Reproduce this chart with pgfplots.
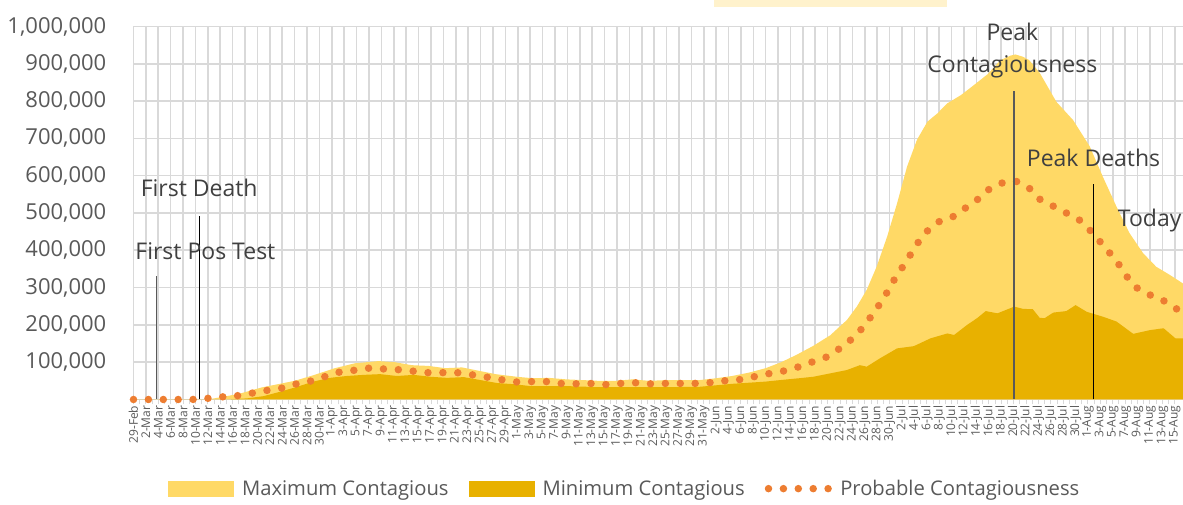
\documentclass[border=0pt]{standalone}
\usepackage{pgfplots}
\pgfplotsset{compat=1.18}
\usepackage{fontspec}
\setmainfont{Open Sans}
\definecolor{maxc}{HTML}{FFD966}
\definecolor{minc}{HTML}{E8B100}
\definecolor{dotc}{HTML}{ED7D31}
\definecolor{gridc}{HTML}{D9D9D9}
\definecolor{tickc}{HTML}{595959}
\definecolor{annc}{HTML}{404040}
\definecolor{boxc}{HTML}{FFF2CC}
\begin{document}
\begin{tikzpicture}
\useasboundingbox (-133.5pt,-105.5pt) rectangle (1049.5pt,399.5pt);
\begin{axis}[
  at={(0,0)}, anchor=south west,
  scale only axis, width=1049.5pt, height=373pt,
  xmin=0, xmax=169.33, ymin=0, ymax=1000000,
  scaled y ticks=false,
  clip=false,
  axis line style={draw=none},
  xtick={0,2,...,168},
  xticklabels={29-Feb,2-Mar,4-Mar,6-Mar,8-Mar,10-Mar,12-Mar,14-Mar,16-Mar,18-Mar,20-Mar,22-Mar,24-Mar,26-Mar,28-Mar,30-Mar,
    1-Apr,3-Apr,5-Apr,7-Apr,9-Apr,11-Apr,13-Apr,15-Apr,17-Apr,19-Apr,21-Apr,23-Apr,25-Apr,27-Apr,29-Apr,
    1-May,3-May,5-May,7-May,9-May,11-May,13-May,15-May,17-May,19-May,21-May,23-May,25-May,27-May,29-May,31-May,
    2-Jun,4-Jun,6-Jun,8-Jun,10-Jun,12-Jun,14-Jun,16-Jun,18-Jun,20-Jun,22-Jun,24-Jun,26-Jun,28-Jun,30-Jun,
    2-Jul,4-Jul,6-Jul,8-Jul,10-Jul,12-Jul,14-Jul,16-Jul,18-Jul,20-Jul,22-Jul,24-Jul,26-Jul,28-Jul,30-Jul,
    1-Aug,3-Aug,5-Aug,7-Aug,9-Aug,11-Aug,13-Aug,15-Aug},
  xticklabel style={rotate=90, anchor=east, font=\fontsize{12}{14}\selectfont, text=tickc, inner sep=1pt},
  minor x tick num=1,
  xtick pos=bottom,
  tick align=outside,
  major tick length=5pt, minor tick length=5pt,
  x tick style={draw=gridc, line width=1pt},
  ytick={0,100000,...,1000000},
  yticklabels={{},{100,000},{200,000},{300,000},{400,000},{500,000},{600,000},{700,000},{800,000},{900,000},{1,000,000}},
  yticklabel style={font=\fontsize{22}{26}\selectfont, text=tickc, inner sep=0pt, xshift=-22pt},
  y tick style={draw=none},
  xmajorgrids, ymajorgrids,
  major grid style={draw=gridc, line width=1.6pt},
  legend style={at={(0.468,-0.239)}, anchor=center, draw=none, fill=none,
    font=\fontsize{20.2}{24}\selectfont, text=tickc,
    /tikz/every odd column/.append style={column sep=6pt},
    /tikz/every even column/.append style={column sep=18pt}},
  legend columns=3,
  legend cell align=left,
]
\fill[boxc] (axis cs:93.7,1053600) rectangle (axis cs:131.2,1071000);

\addplot[draw=none, fill=maxc,
  legend image code/.code={\fill[maxc] (0pt,-8pt) rectangle (66pt,8pt);}]
coordinates {
(0,0) (12,0) (14,6000) (17,15000) (20.6,32000) (22.7,39000) (26,50000) (29.2,66000) (32.5,84000) (35.7,97000) (39.5,103000) (42.2,100000) (44.9,92000) (47.6,90000) (50.3,84000) (53,86000) (55.7,77000) (58.4,68000) (61.8,61000) (64.4,57000) (67,58000) (69.8,54000) (72.5,52000) (75.1,50000) (77.8,50000) (80.5,54000) (83.2,50000) (85.9,52000) (88.6,52000) (91.3,52000) (94,57000) (96.6,63000) (99.3,72000) (102,84000) (104.5,100000) (107,120000) (109.7,144000) (112.4,172000) (115.1,213000) (116.7,249000) (118.3,294000) (119.9,356000) (121.6,437000) (123.2,526000) (124.8,624000) (126.4,696000) (128.1,745000) (129.7,767000) (131.3,794000) (133.5,816000) (135.6,843000) (137.8,872000) (139.9,910000) (141.5,922000) (142.3,925000) (143.5,919000) (144.5,910000) (146.2,876000) (148.9,798000) (151.6,749000) (154.3,678000) (156.4,597000) (158.6,517000) (160.7,446000) (162.9,392000) (165,356000) (167.2,334000) (169.33,311000)
} \closedcycle;
\addlegendentry{Maximum Contagious}

\addplot[draw=none, fill=minc,
  legend image code/.code={\fill[minc] (0pt,-8pt) rectangle (66pt,8pt);}]
coordinates {
(0,0) (15,0) (18.3,3000) (21,9000) (23.7,21000) (26.4,34000) (29,48000) (31.7,58000) (34.4,63000) (37.1,66000) (39.8,68000) (42.5,63000) (45.2,66000) (47.9,61000) (50.6,58000) (53.3,60000) (56,52000) (58.7,44000) (61.4,41000) (64,36000) (69.8,36000) (75.1,33000) (80.5,33000) (85.9,33000) (91.3,34000) (96.6,42000) (102,48000) (104.3,52000) (107.4,57000) (109.7,61000) (112.4,70000) (115.1,79000) (117.2,92000) (118.3,88000) (120.4,110000) (123.2,137000) (125.9,143000) (128.6,164000) (131.3,177000) (132.4,173000) (134.5,200000) (136.1,218000) (137.5,237000) (139.4,231000) (142.1,249000) (143.5,243000) (145.1,242000) (146.2,219000) (147,218000) (148.4,233000) (150.5,237000) (152,253000) (153.8,235000) (156.4,222000) (158.6,209000) (161.3,176000) (164,186000) (166.2,191000) (168.1,164000) (169.33,164000)
} \closedcycle;
\addlegendentry{Minimum Contagious}

\addplot[dotc, line width=7.5pt, line cap=round, dash pattern=on 0pt off 14.9pt,
  legend image code/.code={\draw[dotc, line width=7.5pt, line cap=round, dash pattern=on 0pt off 14.9pt] (4pt,0pt) -- (64pt,0pt);}]
coordinates {
(0,0) (9.5,0) (11.9,3000) (14.3,7000) (16.7,10000) (19.1,17000) (21.4,24000) (23.8,30000) (26.1,41000) (28.5,49000) (30.8,61000) (33.1,73000) (35.5,78000) (37.8,84000) (40.2,82000) (42.7,80000) (45.1,76000) (47.5,72000) (49.8,72000) (52.2,72000) (54.7,66000) (57,60000) (59.4,53000) (61.8,47000) (64.2,48000) (66.6,48000) (68.9,43000) (71.3,42000) (73.7,43000) (76.2,40000) (78.5,43000) (80.9,45000) (83.3,42000) (85.7,43000) (88.1,43000) (90.5,43000) (92.9,45000) (95.3,50000) (97.7,53000) (100.1,61000) (102.4,69000) (104.8,76000) (107.2,87000) (109.4,100000) (111.7,113000) (113.7,134000) (115.6,158000) (117.3,186000) (118.8,218000) (120.2,251000) (121.5,285000) (122.7,320000) (124,353000) (125.3,387000) (126.6,421000) (128.1,452000) (130,477000) (132.2,490000) (134.2,513000) (136.1,535000) (137.9,562000) (140,580000) (142.3,586000) (144.5,567000) (146.1,538000) (148.2,520000) (150.4,501000) (152.5,483000) (154.2,456000) (155.8,426000) (157.4,395000) (158.9,364000) (160.2,331000) (161.7,301000) (163.9,281000) (166,267000) (168.1,245000) (169.33,232000)
};
\addlegendentry{Probable Contagiousness}

% annotation lines
\draw[black!65, line width=1.5pt] (axis cs:3.7,0) -- (axis cs:3.7,330000);
\draw[black, line width=1.3pt] (axis cs:10.65,0) -- (axis cs:10.65,493000);
\draw[black!65, line width=1.8pt] (axis cs:142,0) -- (axis cs:142,827000);
\draw[black, line width=1.3pt] (axis cs:154.9,0) -- (axis cs:154.9,578000);

% annotation texts
\node[text=annc, font=\fontsize{23}{27}\selectfont, inner sep=0pt] at (axis cs:11.6,398000) {First Pos Test};
\node[text=annc, font=\fontsize{23}{27}\selectfont, inner sep=0pt] at (axis cs:10.6,567000) {First Death};
\node[text=annc, font=\fontsize{23}{32}\selectfont, inner sep=0pt, align=center] at (axis cs:141.8,935000) {Peak\\Contagiousness};
\node[text=annc, font=\fontsize{23}{27}\selectfont, inner sep=0pt] at (axis cs:154.9,647000) {Peak Deaths};
\node[text=annc, font=\fontsize{23}{27}\selectfont, inner sep=0pt, anchor=west] at (axis cs:158.8,481000) {Today};
\end{axis}
\end{tikzpicture}
\end{document}
